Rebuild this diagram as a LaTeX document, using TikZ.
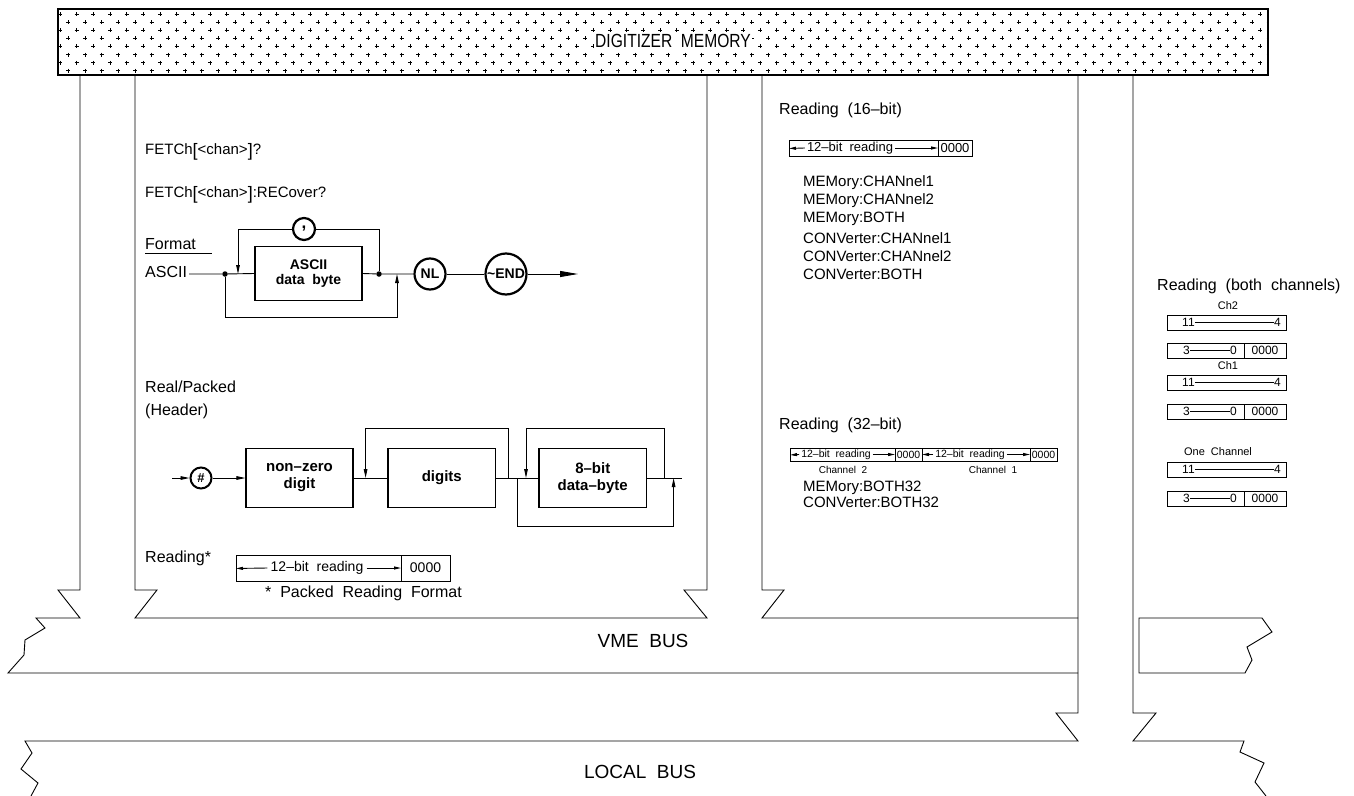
\documentclass[tikz,border=0pt]{standalone}
\usepackage{fontspec}
\setmainfont{Liberation Sans}
\usetikzlibrary{arrows.meta}
\newcommand{\fs}[1]{\fontsize{#1}{#1}\selectfont}
\newcommand{\bigbr}[1]{\raisebox{-2pt}{\fs{18}#1}}
\begin{document}
\begin{tikzpicture}[x=1pt,y=-1pt,
  ln/.style={line width=0.9pt},
  bus/.style={line width=0.9pt, line join=miter},
  pat/.style={line width=0.7pt},
  sbox/.style={draw, line width=1.1pt, inner sep=0, font=\fs{14}\bfseries, align=center},
  term/.style={draw, circle, line width=2.2pt, inner sep=0, font=\fs{14}\bfseries},
  dotn/.style={circle, fill, inner sep=0, minimum size=5.5pt},
  lbl/.style={anchor=base west, inner sep=0, font=\fs{16}},
  cmd/.style={anchor=base west, inner sep=0, font=\fs{15}},
  rbox/.style={draw, line width=0.9pt, inner sep=0, anchor=north west},
  small/.style={inner sep=0, font=\fs{12}},
  sarr/.tip={Triangle[length=9pt,width=3.6pt]},
  darr/.tip={Triangle[length=7pt,width=3pt]},
  barr/.tip={Triangle[length=18pt,width=6pt]}
]
\useasboundingbox (0,0) rectangle (1354,795);
\fill[white] (0,0) rectangle (1354,795);

% ---------------- digitizer memory ----------------
\begin{scope}
\clip (57,8) rectangle (1267,74);
\foreach \j in {0,...,7} {
  \pgfmathsetmacro{\off}{mod(\j,2)*8.33}
  \foreach \i in {0,...,73} {
    \draw[pat] ({60+\off+16.67*\i},{14+8.1*\j}) +(-2,0) -- +(2,0) +(0,-2) -- +(0,2);
  }
}
\end{scope}
\node[draw, line width=2.2pt, minimum width=1210pt, minimum height=66pt, inner sep=0, anchor=north west] (mem) at (57,8) {};
\node[fill=white, inner sep=1.5pt, font=\fs{19}] (memt) at (673,41) {\scalebox{0.82}[1]{DIGITIZER\ \ MEMORY}};

% ---------------- bus outlines ----------------
\draw[bus] (80,75) -- (80,590) -- (58,590) -- (80,618) -- (36,618) -- (45,628) -- (25,640) -- (24,655) -- (8,673) -- (1078,673);
\draw[bus] (135,75) -- (135,590) -- (157,590) -- (135,618) -- (707,618) -- (684,590) -- (707,590) -- (707,75);
\draw[bus] (762,75) -- (762,590) -- (784,590) -- (762,618) -- (1078,618);
\draw[bus] (1078,75) -- (1078,713) -- (1056,713) -- (1078,741) -- (25,741) -- (32,753) -- (21,769) -- (38,783) -- (31,796);
\draw[bus] (1133,75) -- (1133,713) -- (1156,713) -- (1133,741) -- (1244,741) -- (1240,752) -- (1264,763) -- (1255,782) -- (1266,796);
\draw[bus] (1139,618) -- (1262,618) -- (1272,632) -- (1247,647) -- (1252,660) -- (1245,673) -- (1139,673) -- cycle;
\node[font=\fs{19}, inner sep=0] (vme) at (643,641) {VME\ \ BUS};
\node[font=\fs{19}, inner sep=0] (local) at (640,772) {LOCAL\ \ BUS};

% ---------------- left panel ----------------
\node[cmd] (f1) at (145,154) {FETCh\bigbr{[}\textless chan\textgreater\bigbr{]}?};
\node[cmd] (f2) at (145,197) {FETCh\bigbr{[}\textless chan\textgreater\bigbr{]}:RECover?};
\node[lbl] (fmt) at (145,249) {Format};
\draw[ln] (fmt.base west) ++(0,4.5) -- ++(67,0);
\node[lbl] (asc) at (145,277) {ASCII};

% ASCII syntax diagram
\coordinate (as) at (189,274);
\node[dotn] (d1) at (225,274) {};
\node[sbox, minimum width=107pt, minimum height=54pt] (ab) at (308.5,273.5) {ASCII\\[1pt]data\ \ byte};
\node[dotn] (d2) at (379,274) {};
\node[term, minimum size=31pt] (nl) at (430,274) {NL};
\node[term, minimum size=41pt] (end) at (506,274) {\textasciitilde END};
\coordinate (aend) at (578,274);
\node[term, minimum size=22pt, font=\fs{17}\bfseries] (cm) at (304,229) {\raisebox{3pt}{,}};
\coordinate (ltE) at (238,274);
\coordinate (lbR) at (397,317);
\coordinate (lbE) at (397,274);
\draw[ln] (as) -- (d1) -- (ab.west);
\draw[ln] (ab.east) -- (d2) -- (nl.west);
\draw[ln] (nl.east) -- (end.west);
\draw[ln, -{barr}] (end.east) -- (aend);
\draw[ln] (d2) |- (cm.east);
\draw[ln, -{sarr}] (cm.west) -| (ltE);
\draw[ln, -{sarr}] (d1) |- (lbR) -- (lbE);

% header diagram
\node[lbl] (rp) at (145,392) {Real/Packed};
\node[lbl] (hd) at (145,415) {(Header)};
\coordinate (hs) at (172,478);
\node[term, minimum size=21pt, line width=2pt, font=\fs{13}\bfseries] (hash) at (201,478) {\#};
\node[sbox, minimum width=107pt, minimum height=59pt, font=\fs{15}\bfseries] (nz) at (299.5,478) {non\textendash zero\\[2pt]digit};
\node[sbox, minimum width=107.5pt, minimum height=59pt, font=\fs{15}\bfseries] (dg) at (441.75,478) {digits};
\node[sbox, minimum width=107.5pt, minimum height=59pt, font=\fs{15}\bfseries] (eb) at (592.75,478) {8\textendash bit\\[2pt]data\textendash byte};
\coordinate (he) at (682,478);
\coordinate (l1a) at (508.5,478);
\coordinate (l1t) at (508.5,428);
\coordinate (l1b) at (365.6,478);
\coordinate (l2a) at (664,478);
\coordinate (l2t) at (664,428);
\coordinate (l2b) at (526,478);
\coordinate (l3a) at (517,478);
\coordinate (l3r) at (673.6,526);
\coordinate (l3b) at (673.6,478);
\draw[ln, -{sarr}] (hs) -- (hash.west);
\draw[ln, -{sarr}] (hash.east) -- (nz.west);
\draw[ln] (nz.east) -- (dg.west);
\draw[ln] (dg.east) -- (eb.west);
\draw[ln] (eb.east) -- (he);
\draw[ln, -{sarr}] (l1a) -- (l1t) -| (l1b);
\draw[ln, -{sarr}] (l2a) -- (l2t) -| (l2b);
\draw[ln, -{sarr}] (l3a) |- (l3r) -- (l3b);

% packed reading
\node[lbl] (rd) at (145,562) {Reading*};
\node[rbox, minimum width=214pt, minimum height=26pt] (rl) at (236,555) {};
\coordinate (rlt) at (401,555);
\coordinate (rlb) at (401,581);
\coordinate (rlm) at (401,568);
\draw[ln] (rlt) -- (rlb);
\node[small, font=\fs{14}, fill=white, inner xsep=3pt] (rlx) at (317,568) {12\textendash bit\ \ reading};
\node[small, font=\fs{14}] (rl0) at (425.5,568) {0000};
\draw[ln, -{darr}] (rlx.west) -- (rl.west);
\draw[ln, -{darr}] (rlx.east) -- (rlm);
\node[lbl] (prf) at (265,597) {*\ \ Packed\ \ Reading\ \ Format};

% ---------------- middle right panel ----------------
\node[lbl] (r16t) at (779,114) {Reading\ \ (16\textendash bit)};
\node[rbox, minimum width=183pt, minimum height=16pt] (r16) at (789,140) {};
\coordinate (r16d1) at (938,140);
\coordinate (r16d2) at (938,156);
\coordinate (r16m) at (938,148);
\draw[ln] (r16d1) -- (r16d2);
\node[small, font=\fs{13}, inner xsep=2pt] (r16x) at (850,148) {12\textendash bit\ \ reading};
\node[small, font=\fs{13}] (r160) at (955,148) {0000};
\draw[ln, -{darr}] (r16x.west) -- (r16.west);
\draw[ln, -{darr}] (r16x.east) -- (r16m);

\node[cmd] (m1) at (803,186) {MEMory:CHANnel1};
\node[cmd] (m2) at (803,204) {MEMory:CHANnel2};
\node[cmd] (m3) at (803,222) {MEMory:BOTH};
\node[cmd] (c1) at (803,243) {CONVerter:CHANnel1};
\node[cmd] (c2) at (803,261) {CONVerter:CHANnel2};
\node[cmd] (c3) at (803,279) {CONVerter:BOTH};

\node[lbl] (r32t) at (779,429) {Reading\ \ (32\textendash bit)};
\node[rbox, minimum width=267pt, minimum height=13pt] (r32) at (790,448) {};
\coordinate (q1t) at (895,448); \coordinate (q1b) at (895,461); \coordinate (q1m) at (895,454.5);
\coordinate (q2t) at (922,448); \coordinate (q2b) at (922,461); \coordinate (q2m) at (922,454.5);
\coordinate (q3t) at (1030,448); \coordinate (q3b) at (1030,461); \coordinate (q3m) at (1030,454.5);
\draw[ln] (q1t) -- (q1b);
\draw[ln] (q2t) -- (q2b);
\draw[ln] (q3t) -- (q3b);
\node[small, font=\fs{10.5}, inner xsep=2pt] (r32x1) at (836,454.5) {12\textendash bit\ \ reading};
\node[small, font=\fs{10.5}] (r3201) at (908.5,454.5) {0000};
\node[small, font=\fs{10.5}, inner xsep=2pt] (r32x2) at (970,454.5) {12\textendash bit\ \ reading};
\node[small, font=\fs{10.5}] (r3202) at (1043.5,454.5) {0000};
\draw[ln, -{darr}] (r32x1.west) -- (r32.west);
\draw[ln, -{darr}] (r32x1.east) -- (q1m);
\draw[ln, -{darr}] (r32x2.west) -- (q2m);
\draw[ln, -{darr}] (r32x2.east) -- (q3m);
\node[small, font=\fs{10}] (ch2) at (843,470) {Channel\ \ 2};
\node[small, font=\fs{10}] (ch1) at (993,470) {Channel\ \ 1};
\node[cmd] (mb) at (803,491) {MEMory:BOTH32};
\node[cmd] (cb) at (803,507) {CONVerter:BOTH32};

% ---------------- right panel ----------------
\node[lbl] (rbt) at (1157,290) {Reading\ \ (both\ \ channels)};
\node[small, font=\fs{11}] (lch2) at (1228,306) {Ch2};
\node[small, font=\fs{11}] (lch1) at (1228,366) {Ch1};
\node[small, font=\fs{11}] (lone) at (1218,452) {One\ \ Channel};
\foreach \nm/\yt in {b1/315,b3/375,b5/462} {
  \node[rbox, minimum width=119pt, minimum height=15pt] (\nm) at (1167,\yt) {};
  \node[small, anchor=west] (\nm a) at (1182,\yt+7.5) {11};
  \node[small, anchor=east] (\nm b) at (1281,\yt+7.5) {4};
  \draw[ln] (\nm a.east) -- (\nm b.west);
}
\foreach \nm/\yt in {b2/343,b4/404,b6/491} {
  \node[rbox, minimum width=119pt, minimum height=15pt] (\nm) at (1167,\yt) {};
  \coordinate (\nm t) at (1244,\yt);
  \coordinate (\nm u) at (1244,\yt+15);
  \draw[ln] (\nm t) -- (\nm u);
  \node[small, anchor=west] (\nm a) at (1183,\yt+7.5) {3};
  \node[small, anchor=east] (\nm b) at (1237,\yt+7.5) {0};
  \node[small] (\nm c) at (1265,\yt+7.5) {0000};
  \draw[ln] (\nm a.east) -- (\nm b.west);
}
\end{tikzpicture}
\end{document}
